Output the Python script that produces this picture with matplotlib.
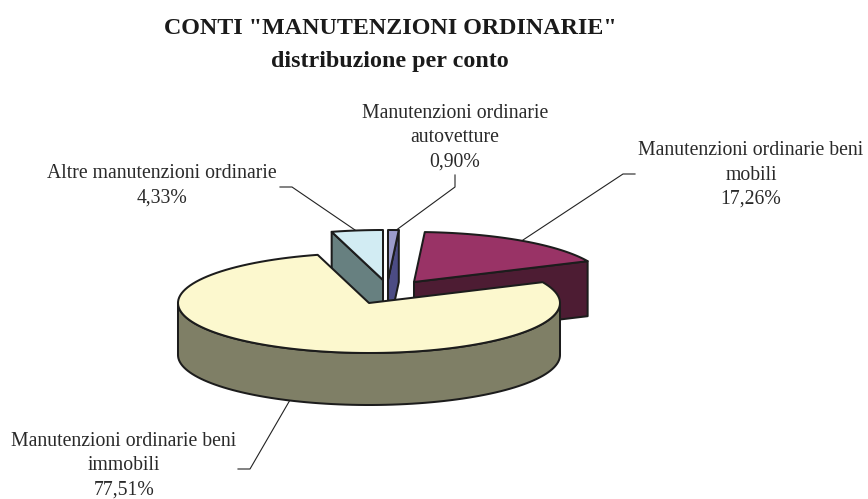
import numpy as np
import matplotlib
matplotlib.use("Agg")
import matplotlib.pyplot as plt

plt.rcParams['font.family'] = ['Liberation Serif', 'DejaVu Serif']

# Data (clockwise from 12 o'clock)
categories = ["Manutenzioni ordinarie\nautovetture",
              "Manutenzioni ordinarie beni\nmobili",
              "Manutenzioni ordinarie beni\nimmobili",
              "Altre manutenzioni ordinarie"]
shares = [0.90, 17.26, 77.51, 4.33]
share_labels = ["0,90%", "17,26%", "77,51%", "4,33%"]

title_lines = 'CONTI "MANUTENZIONI ORDINARIE"\ndistribuzione per conto'

# Styles / geometry (pixel space)
top_colors = ["#9C9CCB", "#993366", "#FCF8CE", "#D2ECF3"]
side_colors = ["#4C4C84", "#4D1C33", "#7F7F66", "#678080"]
offsets = [(19, -23), (45, -21), (0, 0), (14, -23)]
depths = [52, 55, 52, 52]
center = (369, 303)
rx, ry = 191, 50
edge = "#1c1c1c"
lw = 1.45

fig = plt.figure(figsize=(8.68, 4.99), dpi=100)
ax = fig.add_axes([0, 0, 1, 1])
ax.set_xlim(0, 868)
ax.set_ylim(499, 0)
ax.axis("off")


def pt(a, cx, cy):
    r = np.radians(a)
    return cx + rx * np.cos(r), cy - ry * np.sin(r)


starts = 90 - np.cumsum([0] + shares[:-1]) * 3.6
ends = starts - np.array(shares) * 3.6


def poly(xs, ys, color, z):
    ax.fill(xs, ys, facecolor=color, edgecolor=edge, linewidth=lw,
            joinstyle="round", zorder=z)


for z, i in enumerate([3, 0, 1, 2]):
    cx = center[0] + offsets[i][0]
    cy = center[1] + offsets[i][1]
    depth = depths[i]
    a0, a1 = starts[i], ends[i]
    base = 2 + z * 3
    if i != 2:
        # cut face on the front side of the wedge
        edge_a = a0 if i == 3 else a1
        ex, ey = pt(edge_a, cx, cy)
        poly([ex, cx, cx, ex], [ey, cy, cy + depth, ey + depth], side_colors[i], base)
    else:
        # visible outer wall: lower half of the ellipse
        t = np.linspace(-180, 0, 90)
        xs, ys = pt(t, cx, cy)
        poly(np.r_[xs, xs[::-1]], np.r_[ys, ys[::-1] + depth], side_colors[i], base)
    t = np.linspace(a0, a1, 120)
    xs, ys = pt(t, cx, cy)
    poly(np.r_[cx, xs], np.r_[cy, ys], top_colors[i], base + 1)

# Leader lines
leaders = [
    ([455, 455, 395], [175, 187, 231]),
    ([635, 623, 523], [174, 174, 240]),
    ([238, 250, 290], [469, 469, 400]),
    ([280, 292, 355], [187, 187, 230]),
]
for xs, ys in leaders:
    ax.plot(xs, ys, color="#222222", lw=0.8, zorder=1, solid_joinstyle="miter")

fs = 14.2
col = "#2a2a2a"
ls = 1.38
ax.text(455, 138, categories[0] + "\n" + share_labels[0], ha="center", va="center",
        fontsize=fs, color=col, linespacing=ls)
ax.text(751, 175, categories[1] + "\n" + share_labels[1], ha="center", va="center",
        fontsize=fs, color=col, linespacing=ls)
ax.text(124, 466, categories[2] + "\n" + share_labels[2], ha="center", va="center",
        fontsize=fs, color=col, linespacing=ls)
ax.text(162, 186, categories[3] + "\n" + share_labels[3], ha="center", va="center",
        fontsize=fs, color=col, linespacing=ls)

ax.text(390, 45, title_lines, ha="center", va="center", fontsize=17.3,
        fontweight="bold", color="#1a1a1a", linespacing=1.79)

fig.savefig("out.png", dpi=100, facecolor="white")
